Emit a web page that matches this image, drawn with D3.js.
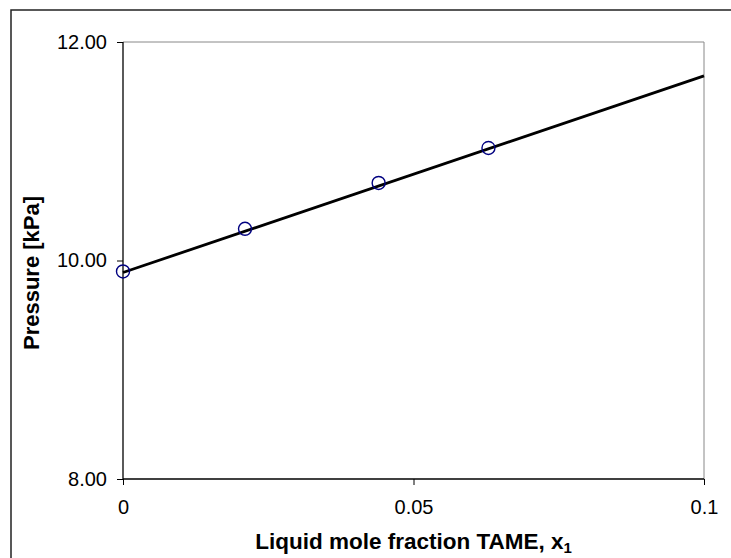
<!DOCTYPE html>
<html>
<head>
<meta charset="utf-8">
<script src="https://cdn.jsdelivr.net/npm/d3@7"></script>
<style>
  body { margin: 0; background: #fff; }
  svg { display: block; font-family: "Liberation Sans", Arial, sans-serif; }
</style>
</head>
<body>
<svg id="chart" width="731" height="558"></svg>
<script>
// measured points
const xValues = [0, 0.021, 0.044, 0.0629];
const pressure = [9.90, 10.29, 10.71, 11.03];

// fitted line (ends)
const lineX = [0, 0.1];
const lineY = [9.89, 11.69];

const xTicks = [0, 0.05, 0.1];
const yTicks = [8, 10, 12];

const margin = { top: 42, right: 27, bottom: 79, left: 123 };
const W = 731, H = 558;
const width = W - margin.left - margin.right;
const height = H - margin.top - margin.bottom;

const svg = d3.select("#chart");

// outer frame (runs off the right and bottom edges)
svg.append("rect")
  .attr("x", 11).attr("y", 10)
  .attr("width", 740).attr("height", 560)
  .attr("fill", "none")
  .attr("stroke", "#222")
  .attr("stroke-width", 1.5);

const g = svg.append("g")
  .attr("transform", `translate(${margin.left},${margin.top})`);

const x = d3.scaleLinear().domain([0, 0.1]).range([0, width]);
const y = d3.scaleLinear().domain([8, 12]).range([height, 0]);

// plot area border (grey top/right)
g.append("path")
  .attr("d", `M0,0H${width}V${height}`)
  .attr("fill", "none")
  .attr("stroke", "#888")
  .attr("stroke-width", 1);

// axes
const xAxis = g.append("g")
  .attr("transform", `translate(0,${height})`)
  .call(d3.axisBottom(x).tickValues(xTicks).tickSize(6).tickPadding(15)
    .tickFormat(d => d === 0 ? "0" : String(+d.toFixed(2))));

const yAxis = g.append("g")
  .call(d3.axisLeft(y).tickValues(yTicks).tickSize(6).tickPadding(10)
    .tickFormat(d3.format(".2f")));

[xAxis, yAxis].forEach(a => {
  a.select(".domain").attr("stroke", "#000").attr("stroke-width", 1.3);
  a.selectAll(".tick line").attr("stroke", "#000").attr("stroke-width", 1);
  a.selectAll(".tick text")
    .attr("fill", "#000")
    .style("font-size", "20px")
    .style("font-family", "'Liberation Sans', Arial, sans-serif");
});
xAxis.select(".domain").attr("d", `M0,0H${width}`);
yAxis.select(".domain").attr("d", `M0,${height}V0`);

// fitted line
const linePts = lineX.map((v, i) => [v, lineY[i]]);
g.append("path")
  .datum(linePts)
  .attr("fill", "none")
  .attr("stroke", "#000")
  .attr("stroke-width", 2.8)
  .attr("d", d3.line().x(d => x(d[0])).y(d => y(d[1])));

// data points
g.selectAll("circle.pt")
  .data(xValues.map((v, i) => ({ x: v, y: pressure[i] })))
  .enter()
  .append("circle")
  .attr("class", "pt")
  .attr("cx", d => x(d.x))
  .attr("cy", d => y(d.y))
  .attr("r", 6.5)
  .attr("fill", "none")
  .attr("stroke", "#000080")
  .attr("stroke-width", 1.4);

// X axis title
const xt = svg.append("text")
  .attr("x", margin.left + width / 2)
  .attr("y", 549)
  .attr("text-anchor", "middle")
  .style("font-size", "22.5px")
  .style("font-weight", "bold")
  .attr("fill", "#000")
  .text("Liquid mole fraction TAME, x");
xt.append("tspan")
  .attr("dy", 4)
  .style("font-size", "15px")
  .text("1");

// Y axis title
svg.append("text")
  .attr("transform", `translate(39,273) rotate(-90)`)
  .attr("text-anchor", "middle")
  .style("font-size", "22px")
  .style("font-weight", "bold")
  .attr("fill", "#000")
  .text("Pressure [kPa]");
</script>
</body>
</html>
